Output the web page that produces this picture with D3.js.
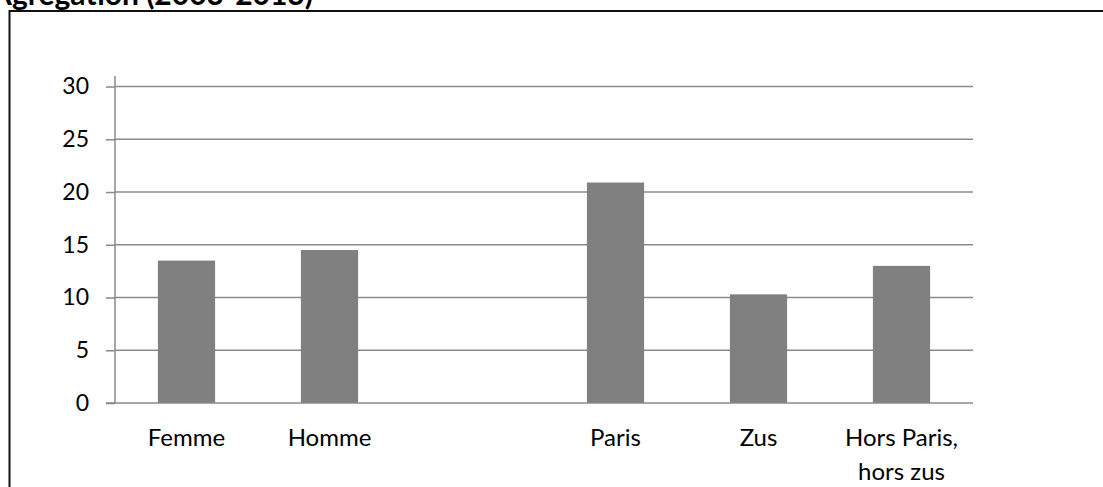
<!DOCTYPE html>
<html>
<head>
<meta charset="utf-8">
<script src="https://cdn.jsdelivr.net/npm/d3@7"></script>
<style>
  body { margin: 0; background: #fff; }
  svg { display: block; }
  text { font-family: Lato, "Open Sans", sans-serif; fill: #000; }
</style>
</head>
<body>
<svg id="chart" width="1103" height="487"></svg>
<script>
// categories (third slot is empty in the original)
var categories = ["Femme", "Homme", "", "Paris", "Zus", "Hors Paris,\nhors zus"];
var values = [13.5, 14.5, null, 20.9, 10.3, 13.0];
var yTicks = [0, 5, 10, 15, 20, 25, 30];
var title = "Agrégation (2003-2013)";

var svg = d3.select("#chart");

// frame of the chart (goes past the window right and bottom)
svg.append("rect")
    .attr("x", 9.5).attr("y", 11)
    .attr("width", 1200).attr("height", 600)
    .attr("fill", "none").attr("stroke", "#111").attr("stroke-width", 2);

// title, cut by the top of the picture like in the original
svg.append("text")
    .attr("x", 313).attr("y", 5)
    .attr("text-anchor", "end")
    .style("font-weight", "bold").style("font-size", "30px")
    .text(title);

var x = d3.scaleBand().domain(categories).range([115, 973]).paddingInner(0.6).paddingOuter(0.3);
var y = d3.scaleLinear().domain([0, 31]).range([403, 76]);

// gridlines
svg.append("g").selectAll("line").data(yTicks.slice(1)).enter().append("line")
    .attr("x1", 115).attr("x2", 973)
    .attr("y1", function(d) { return y(d); }).attr("y2", function(d) { return y(d); })
    .attr("stroke", "#8a8a8a").attr("stroke-width", 1.5);

// bars
svg.append("g").selectAll("rect").data(categories).enter()
    .filter(function(d, i) { return values[i] != null; })
    .append("rect")
    .attr("x", function(d) { return x(d); })
    .attr("width", x.bandwidth())
    .attr("y", function(d) { return y(values[categories.indexOf(d)]); })
    .attr("height", function(d) { return y(0) - y(values[categories.indexOf(d)]); })
    .attr("fill", "#808080");

// y axis
var yAxis = svg.append("g").attr("transform", "translate(115,0)")
    .call(d3.axisLeft(y).tickValues(yTicks).tickSize(9).tickPadding(17));
yAxis.select(".domain").attr("stroke", "#8a8a8a").attr("stroke-width", 1.5)
    .attr("d", "M0," + y(31) + "V" + y(0));
yAxis.selectAll(".tick line").attr("stroke", "#8a8a8a").attr("stroke-width", 1.5);
yAxis.selectAll(".tick text").style("font-size", "23px").style("font-family", "Lato, sans-serif").attr("fill", "#000");

// x axis
var xAxis = svg.append("g").attr("transform", "translate(0,403)")
    .call(d3.axisBottom(x).tickSize(0).tickPadding(0));
xAxis.select(".domain").attr("stroke", "#8a8a8a").attr("stroke-width", 1.5)
    .attr("d", "M106,0H973");
xAxis.selectAll(".tick text").each(function(d) {
    var t = d3.select(this).text(null).attr("y", 0).attr("dy", null)
        .style("font-size", "24px").style("font-family", "Lato, sans-serif").attr("fill", "#000");
    d.split("\n").forEach(function(line, i) {
        t.append("tspan").attr("x", 0).attr("y", 43 + i * 34).text(line);
    });
});
</script>
</body>
</html>
